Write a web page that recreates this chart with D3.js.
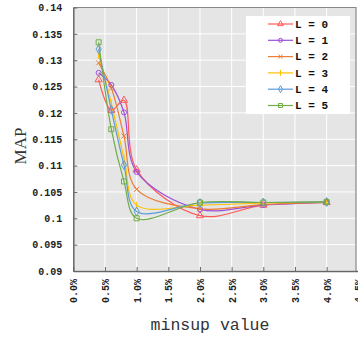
<!DOCTYPE html>
<html>
<head>
<meta charset="utf-8">
<script src="https://cdn.jsdelivr.net/npm/d3@7"></script>
<style>
  body { margin: 0; background: white; }
  svg { display: block; }
  .tickText { font-family: "Liberation Mono", "Courier New", monospace; font-weight: bold; font-size: 10px; fill: #222; }
  .legText { font-family: "Liberation Mono", "Courier New", monospace; font-weight: bold; font-size: 11px; fill: #111; }
</style>
</head>
<body>
<svg class="svgMain" width="358" height="341"></svg>
<script>
// MAP vs minsup chart, one smoothed line per L value.

PLOT_L = 73.3;
PLOT_R = 356;
PLOT_T = 7.5;
PLOT_B = 271;

// Data
var minsup = [0.4, 0.6, 0.8, 1.0, 2.0, 3.0, 4.0];
var seriesNames = ["L = 0", "L = 1", "L = 2", "L = 3", "L = 4", "L = 5"];
var L0 = [0.1263, 0.1205, 0.1224, 0.1092, 0.1005, 0.1025, 0.1030];
var L1 = [0.1276, 0.1253, 0.1201, 0.1088, 0.1017, 0.1025, 0.1030];
var L2 = [0.1295, 0.1247, 0.1156, 0.1055, 0.1018, 0.1026, 0.1030];
var L3 = [0.1309, 0.1218, 0.1115, 0.1025, 0.1025, 0.1029, 0.1031];
var L4 = [0.1321, 0.1206, 0.1101, 0.1013, 0.1029, 0.1030, 0.1031];
var L5 = [0.1334, 0.1169, 0.1070, 0.1000, 0.1030, 0.1030, 0.1031];
var seriesValues = [L0, L1, L2, L3, L4, L5];
var xTicks = [0, 0.5, 1.0, 1.5, 2.0, 2.5, 3.0, 3.5, 4.0, 4.5];
var yTicks = [0.09, 0.095, 0.1, 0.105, 0.11, 0.115, 0.12, 0.125, 0.13, 0.135, 0.14];

var colors = ["#ff5a5a", "#9c4fd8", "#ed7d31", "#ffc000", "#5b9bd5", "#70ad47"];
var markers = ["triangle", "circle", "x", "plus", "diamond", "square"];

var svgMain = d3.select(".svgMain");

var xScale = d3.scaleLinear().domain([0, 4.5]).range([PLOT_L, 358.3]);
var yScale = d3.scaleLinear().domain([0.09, 0.14]).range([PLOT_B, PLOT_T]);

// Helper Functions
function markerPath (kind, s) {
    if (kind == "triangle") return d3.symbol(d3.symbolTriangle, s * s * 0.9)();
    if (kind == "circle") return d3.symbol(d3.symbolCircle, s * s * 0.8)();
    if (kind == "diamond") return d3.symbol(d3.symbolDiamond, s * s * 0.9)();
    if (kind == "square") return d3.symbol(d3.symbolSquare, s * s)();
    var h = s / 2;
    if (kind == "x") return "M" + (-h) + "," + (-h) + "L" + h + "," + h + "M" + (-h) + "," + h + "L" + h + "," + (-h);
    return "M0," + (-h - 1) + "L0," + (h + 1);
}

function drawMarker (g, kind, color, x, y, s) {
    g.append("path")
        .attr("d", markerPath(kind, s))
        .attr("transform", "translate(" + x + "," + y + ")")
        .attr("fill", "none")
        .attr("stroke", color)
        .attr("stroke-width", 1);
}

// Main Functions
function drawBackground () {
    svgMain.append("rect")
        .attr("x", PLOT_L).attr("y", PLOT_T)
        .attr("width", PLOT_R - PLOT_L).attr("height", PLOT_B - PLOT_T)
        .attr("fill", "#e5e5e5");
    // grid
    svgMain.selectAll(".hGrid").data(yTicks).enter().append("line")
        .attr("x1", PLOT_L).attr("x2", PLOT_R)
        .attr("y1", d => yScale(d)).attr("y2", d => yScale(d))
        .attr("stroke", "white").attr("stroke-width", 1);
    svgMain.selectAll(".vGrid").data(xTicks.filter(d => xScale(d) < PLOT_R)).enter().append("line")
        .attr("x1", d => xScale(d)).attr("x2", d => xScale(d))
        .attr("y1", PLOT_T).attr("y2", PLOT_B)
        .attr("stroke", "white").attr("stroke-width", 1);
    // frame
    svgMain.append("path")
        .attr("d", "M" + PLOT_L + "," + PLOT_T + "H" + PLOT_R + "V" + PLOT_B)
        .attr("fill", "none").attr("stroke", "#888").attr("stroke-width", 1.2);
}

function drawAxes () {
    var yAxis = d3.axisLeft(yScale).tickValues(yTicks).tickSizeInner(-4).tickSizeOuter(0)
        .tickPadding(11).tickFormat(d => d3.format("")(+d.toFixed(3)));
    var gy = svgMain.append("g").attr("transform", "translate(" + PLOT_L + ",0)").call(yAxis);
    gy.select(".domain").attr("stroke", "#666").attr("stroke-width", 1.5);
    gy.selectAll(".tick line").attr("stroke", "#666");
    gy.selectAll("text").attr("class", "tickText").attr("font-family", null).attr("font-size", null);

    var xAxis = d3.axisBottom(xScale).tickValues(xTicks).tickSizeInner(-4).tickSizeOuter(0)
        .tickFormat(d => d.toFixed(1) + "%");
    var gx = svgMain.append("g").attr("transform", "translate(0," + PLOT_B + ")").call(xAxis);
    gx.select(".domain").attr("stroke", "#666").attr("stroke-width", 1.5);
    gx.selectAll(".tick line").attr("stroke", "#666");
    gx.selectAll("text").attr("class", "tickText").attr("font-family", null).attr("font-size", null)
        .attr("text-anchor", "end")
        .attr("transform", "rotate(-90)")
        .attr("x", -8).attr("y", 0).attr("dy", "0.35em");

    svgMain.append("text")
        .attr("x", 210).attr("y", 330)
        .attr("text-anchor", "middle")
        .attr("font-family", "Liberation Mono, Courier New, monospace")
        .attr("font-size", 16.5).attr("fill", "#333")
        .text("minsup value");

    svgMain.append("text")
        .attr("transform", "translate(26,146) rotate(-90)")
        .attr("text-anchor", "middle")
        .attr("font-family", "Liberation Serif, Times New Roman, serif")
        .attr("font-size", 17).attr("fill", "#333")
        .text("MAP");
}

function drawLines () {
    var line = d3.line()
        .x((d, i) => xScale(minsup[i]))
        .y(d => yScale(d))
        .curve(d3.curveCatmullRom.alpha(0.5));
    for (let k = 0; k < seriesValues.length; k++) {
        svgMain.append("path")
            .attr("d", line(seriesValues[k]))
            .attr("fill", "none")
            .attr("stroke", colors[k])
            .attr("stroke-width", 1.2);
    }
    for (let k = 0; k < seriesValues.length; k++) {
        var g = svgMain.append("g");
        for (let i = 0; i < minsup.length; i++) {
            drawMarker(g, markers[k], colors[k], xScale(minsup[i]), yScale(seriesValues[k][i]), 5);
        }
    }
}

function drawLegend () {
    svgMain.append("rect")
        .attr("x", 246).attr("y", 16)
        .attr("width", 104).attr("height", 98)
        .attr("fill", "white");
    for (let k = 0; k < seriesNames.length; k++) {
        var y = 24 + 16.3 * k;
        svgMain.append("line")
            .attr("x1", 268).attr("x2", 293)
            .attr("y1", y).attr("y2", y)
            .attr("stroke", colors[k]).attr("stroke-width", 1.2);
        drawMarker(svgMain, markers[k], colors[k], 280.5, y, 4);
        svgMain.append("text")
            .attr("class", "legText")
            .attr("x", 295).attr("y", y).attr("dy", "0.35em")
            .text(seriesNames[k]);
    }
}

drawBackground();
drawLines();
drawAxes();
drawLegend();
</script>
</body>
</html>
